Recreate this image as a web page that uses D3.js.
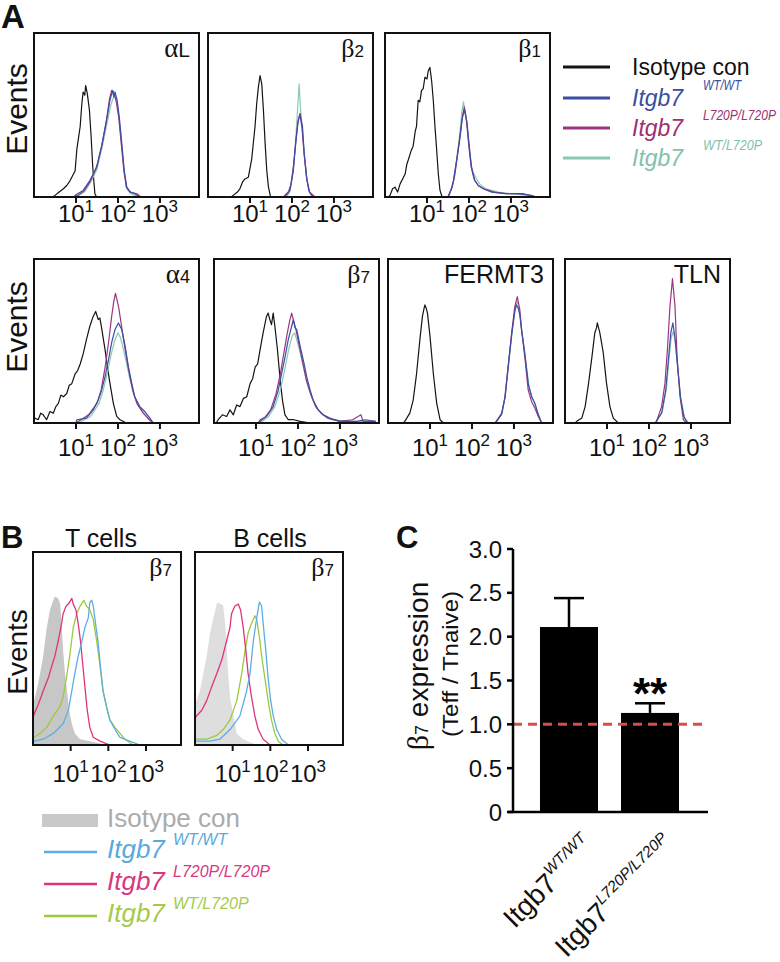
<!DOCTYPE html>
<html><head><meta charset="utf-8">
<script src="https://cdn.jsdelivr.net/npm/d3@7"></script>
<style>body{margin:0;background:#fff} svg{display:block}</style>
</head><body><svg id="c" width="780" height="962"></svg>
<script>
// ---------- DATA (histograms: [log10 intensity, normalised events]) ----------
const histTicks = [10, 100, 1000];
const histTickExp = ["1", "2", "3"];

const aL_iso = [[0.45,0],[0.5,0.01],[0.6,0.03],[0.7,0.05],[0.78,0.07],[0.86,0.10],[0.98,0.16],[1.02,0.29],[1.10,0.43],[1.14,0.57],[1.17,0.64],[1.21,0.62],[1.23,0.68],[1.27,0.63],[1.32,0.53],[1.36,0.37],[1.40,0.18],[1.45,0.02],[1.49,0]];
const aL_wt  = [[0.95,0],[0.98,0.01],[1.17,0.04],[1.33,0.10],[1.49,0.18],[1.61,0.31],[1.73,0.47],[1.81,0.59],[1.87,0.65],[1.90,0.61],[1.93,0.64],[1.98,0.59],[2.03,0.49],[2.09,0.33],[2.15,0.16],[2.21,0.06],[2.29,0.03],[2.40,0.02],[2.52,0]];
const aL_hom = [[0.95,0],[1.05,0.01],[1.2,0.04],[1.35,0.10],[1.5,0.19],[1.62,0.32],[1.72,0.46],[1.80,0.60],[1.85,0.65],[1.90,0.64],[1.96,0.58],[2.02,0.48],[2.08,0.32],[2.14,0.16],[2.20,0.06],[2.3,0.03],[2.45,0.02],[2.55,0]];
const aL_het = [[1.0,0],[1.2,0.03],[1.35,0.09],[1.5,0.17],[1.62,0.30],[1.74,0.45],[1.82,0.55],[1.88,0.6],[1.93,0.62],[1.98,0.57],[2.03,0.47],[2.09,0.31],[2.15,0.15],[2.21,0.05],[2.3,0.02],[2.5,0]];

const b2_iso = [[0.55,0],[0.60,0.01],[0.70,0.03],[0.76,0.05],[0.82,0.09],[0.88,0.11],[0.96,0.12],[1.04,0.23],[1.12,0.43],[1.14,0.50],[1.16,0.57],[1.20,0.67],[1.24,0.74],[1.28,0.69],[1.32,0.53],[1.36,0.33],[1.40,0.16],[1.44,0.06],[1.49,0]];
const b2_wt  = [[1.80,0],[1.83,0.01],[1.95,0.04],[2.03,0.16],[2.09,0.33],[2.14,0.45],[2.19,0.51],[2.25,0.43],[2.29,0.27],[2.35,0.12],[2.40,0.04],[2.47,0.01],[2.55,0]];
const b2_hom = [[1.80,0],[1.90,0.02],[1.98,0.08],[2.04,0.20],[2.10,0.36],[2.15,0.47],[2.19,0.50],[2.24,0.42],[2.29,0.26],[2.35,0.11],[2.42,0.03],[2.55,0]];
const b2_het = [[1.85,0],[1.95,0.03],[2.03,0.15],[2.08,0.32],[2.13,0.52],[2.17,0.69],[2.20,0.55],[2.25,0.40],[2.30,0.24],[2.36,0.10],[2.43,0.02],[2.52,0]];

const b1_iso = [[0.08,0],[0.12,0.01],[0.18,0.05],[0.24,0.06],[0.30,0.03],[0.36,0.08],[0.42,0.11],[0.48,0.14],[0.52,0.20],[0.56,0.23],[0.62,0.28],[0.67,0.31],[0.72,0.40],[0.75,0.43],[0.79,0.59],[0.83,0.58],[0.87,0.65],[0.91,0.66],[0.95,0.73],[1.0,0.72],[1.03,0.77],[1.07,0.79],[1.11,0.71],[1.15,0.59],[1.19,0.43],[1.23,0.29],[1.27,0.14],[1.31,0.04],[1.36,0]];
const b1_wt  = [[1.50,0],[1.58,0.05],[1.63,0.10],[1.71,0.23],[1.79,0.37],[1.84,0.48],[1.89,0.53],[1.92,0.50],[1.95,0.46],[2.0,0.33],[2.06,0.18],[2.14,0.10],[2.22,0.07],[2.34,0.05],[2.54,0.03],[2.86,0.02],[3.17,0.02],[3.49,0.01],[3.6,0]];
const b1_hom = [[1.50,0],[1.60,0.06],[1.66,0.13],[1.73,0.26],[1.80,0.40],[1.85,0.50],[1.89,0.55],[1.94,0.47],[1.99,0.33],[2.05,0.19],[2.12,0.11],[2.22,0.07],[2.35,0.05],[2.6,0.03],[2.9,0.02],[3.3,0.02],[3.6,0]];
const b1_het = [[1.52,0],[1.62,0.08],[1.70,0.22],[1.77,0.36],[1.83,0.52],[1.87,0.58],[1.91,0.51],[1.96,0.42],[2.02,0.26],[2.08,0.16],[2.16,0.12],[2.25,0.08],[2.4,0.05],[2.7,0.03],[3.0,0.02],[3.4,0.01],[3.6,0]];

const a4_iso = [[0.0,0.0],[0.02,0.03],[0.1,0.02],[0.16,0.06],[0.22,0.05],[0.3,0.02],[0.38,0.07],[0.46,0.06],[0.52,0.10],[0.58,0.12],[0.64,0.17],[0.70,0.16],[0.78,0.18],[0.84,0.23],[0.90,0.24],[0.98,0.30],[1.04,0.32],[1.10,0.36],[1.17,0.42],[1.25,0.51],[1.33,0.59],[1.41,0.65],[1.47,0.68],[1.53,0.63],[1.57,0.64],[1.61,0.58],[1.69,0.45],[1.75,0.34],[1.81,0.24],[1.89,0.12],[1.97,0.04],[2.05,0.02],[2.2,0]];
const a4_wt  = [[1.0,0],[1.02,0.02],[1.25,0.03],[1.41,0.08],[1.53,0.14],[1.61,0.20],[1.69,0.28],[1.77,0.38],[1.85,0.49],[1.93,0.57],[2.01,0.61],[2.09,0.57],[2.17,0.47],[2.25,0.34],[2.33,0.24],[2.40,0.16],[2.52,0.10],[2.64,0.07],[2.76,0.03],[2.84,0]];
const a4_hom = [[1.0,0],[1.3,0.05],[1.5,0.12],[1.6,0.20],[1.7,0.35],[1.78,0.50],[1.85,0.65],[1.90,0.74],[1.94,0.79],[1.97,0.76],[2.02,0.70],[2.08,0.60],[2.15,0.48],[2.25,0.33],[2.35,0.20],[2.45,0.12],[2.6,0.06],[2.75,0.02],[2.85,0]];
const a4_het = [[1.05,0],[1.35,0.04],[1.55,0.12],[1.65,0.20],[1.75,0.31],[1.84,0.42],[1.92,0.50],[2.0,0.55],[2.06,0.52],[2.12,0.46],[2.2,0.37],[2.28,0.27],[2.38,0.17],[2.5,0.10],[2.65,0.05],[2.8,0]];

const b7_iso = [[0.05,0],[0.10,0.02],[0.20,0.05],[0.30,0.04],[0.38,0.08],[0.46,0.05],[0.54,0.11],[0.62,0.10],[0.70,0.15],[0.78,0.16],[0.86,0.24],[0.92,0.27],[0.98,0.34],[1.04,0.36],[1.10,0.45],[1.17,0.55],[1.25,0.65],[1.29,0.67],[1.33,0.63],[1.37,0.60],[1.41,0.67],[1.45,0.59],[1.51,0.45],[1.57,0.28],[1.63,0.14],[1.69,0.05],[1.77,0.02],[1.9,0.02],[2.05,0.01],[2.3,0]];
const b7_wt  = [[1.05,0],[1.10,0.02],[1.25,0.04],[1.41,0.10],[1.53,0.20],[1.61,0.30],[1.69,0.40],[1.77,0.51],[1.85,0.59],[1.89,0.63],[1.93,0.58],[1.97,0.57],[2.05,0.47],[2.13,0.38],[2.21,0.28],[2.29,0.20],[2.36,0.14],[2.48,0.08],[2.60,0.05],[2.76,0.03],[3.0,0.01],[3.4,0.01],[3.6,0.02],[3.85,0.01]];
const b7_hom = [[1.05,0],[1.2,0.03],[1.35,0.08],[1.48,0.18],[1.58,0.30],[1.66,0.42],[1.74,0.54],[1.80,0.62],[1.85,0.67],[1.90,0.62],[1.96,0.56],[2.04,0.46],[2.12,0.36],[2.2,0.26],[2.3,0.18],[2.42,0.10],[2.55,0.06],[2.7,0.03],[3.0,0.01],[3.3,0.02],[3.5,0.05],[3.55,0.01],[3.85,0.01]];
const b7_het = [[1.1,0],[1.3,0.04],[1.45,0.10],[1.58,0.20],[1.68,0.32],[1.78,0.45],[1.86,0.53],[1.92,0.55],[1.98,0.50],[2.06,0.42],[2.14,0.33],[2.22,0.24],[2.32,0.16],[2.45,0.09],[2.6,0.05],[2.8,0.02],[3.2,0.01],[3.85,0.01]];

const fe_iso = [[0.36,0],[0.40,0.01],[0.52,0.06],[0.60,0.14],[0.68,0.30],[0.76,0.51],[0.82,0.65],[0.86,0.70],[0.88,0.72],[0.91,0.70],[0.94,0.67],[1.00,0.53],[1.08,0.30],[1.16,0.12],[1.24,0.02],[1.32,0]];
const fe_wt  = [[2.55,0],[2.71,0.06],[2.79,0.16],[2.86,0.34],[2.95,0.55],[3.02,0.68],[3.06,0.72],[3.10,0.70],[3.14,0.66],[3.18,0.57],[3.26,0.42],[3.34,0.24],[3.42,0.16],[3.50,0.12],[3.58,0.05],[3.66,0]];
const fe_hom = [[2.55,0],[2.70,0.05],[2.78,0.15],[2.86,0.34],[2.95,0.56],[3.02,0.71],[3.08,0.77],[3.14,0.69],[3.18,0.57],[3.26,0.40],[3.34,0.20],[3.42,0.13],[3.50,0.09],[3.58,0.04],[3.66,0]];
const fe_het = [[2.57,0],[2.72,0.06],[2.80,0.18],[2.88,0.37],[2.96,0.56],[3.03,0.70],[3.08,0.74],[3.13,0.68],[3.2,0.54],[3.28,0.38],[3.36,0.22],[3.44,0.15],[3.52,0.10],[3.6,0.04],[3.66,0]];

const tl_iso = [[0.24,0],[0.28,0.01],[0.40,0.03],[0.48,0.10],[0.56,0.24],[0.64,0.40],[0.71,0.55],[0.75,0.58],[0.77,0.61],[0.80,0.58],[0.83,0.55],[0.91,0.43],[0.99,0.24],[1.07,0.10],[1.15,0.03],[1.27,0]];
const tl_wt  = [[2.15,0],[2.30,0.06],[2.40,0.20],[2.46,0.38],[2.52,0.55],[2.57,0.61],[2.62,0.52],[2.68,0.35],[2.75,0.16],[2.83,0.04],[2.92,0]];
const tl_hom = [[2.15,0],[2.18,0.01],[2.30,0.10],[2.38,0.24],[2.44,0.45],[2.50,0.71],[2.56,0.88],[2.62,0.71],[2.67,0.40],[2.74,0.16],[2.82,0.02],[2.90,0]];
const tl_het = [[2.15,0],[2.32,0.07],[2.42,0.22],[2.48,0.40],[2.53,0.52],[2.58,0.56],[2.63,0.48],[2.69,0.32],[2.76,0.14],[2.85,0.03],[2.95,0]];

const bT_iso = [[0,0.20],[0.03,0.23],[0.14,0.32],[0.27,0.46],[0.36,0.60],[0.45,0.70],[0.54,0.75],[0.58,0.77],[0.67,0.76],[0.72,0.73],[0.76,0.63],[0.80,0.49],[0.85,0.37],[0.91,0.27],[0.96,0.18],[1.03,0.11],[1.11,0.06],[1.25,0.03],[1.51,0.02],[1.86,0.005],[1.9,0]];
const bT_wt  = [[0,0.02],[0.03,0.02],[0.27,0.03],[0.54,0.06],[0.80,0.11],[0.94,0.18],[1.03,0.28],[1.11,0.37],[1.20,0.46],[1.29,0.53],[1.38,0.61],[1.47,0.66],[1.51,0.74],[1.56,0.75],[1.60,0.72],[1.66,0.63],[1.73,0.53],[1.80,0.39],[1.86,0.28],[1.95,0.20],[2.04,0.13],[2.18,0.08],[2.31,0.04],[2.57,0.02],[2.84,0]];
const bT_hom = [[0,0.14],[0.03,0.16],[0.14,0.21],[0.27,0.28],[0.41,0.35],[0.50,0.41],[0.58,0.46],[0.67,0.54],[0.76,0.63],[0.80,0.68],[0.88,0.72],[0.94,0.73],[1.03,0.76],[1.07,0.73],[1.14,0.70],[1.20,0.63],[1.26,0.54],[1.32,0.42],[1.38,0.30],[1.44,0.18],[1.51,0.09],[1.60,0.04],[1.78,0.02],[2.04,0]];
const bT_het = [[0,0.04],[0.03,0.04],[0.19,0.06],[0.36,0.09],[0.54,0.15],[0.72,0.20],[0.80,0.25],[0.89,0.35],[0.98,0.47],[1.07,0.61],[1.16,0.68],[1.25,0.72],[1.35,0.75],[1.42,0.72],[1.51,0.70],[1.60,0.65],[1.69,0.54],[1.78,0.41],[1.86,0.28],[1.95,0.20],[2.04,0.13],[2.18,0.09],[2.31,0.06],[2.44,0.03],[2.66,0]];

const bB_iso = [[0,0.21],[0.04,0.23],[0.13,0.28],[0.22,0.37],[0.31,0.46],[0.40,0.58],[0.49,0.66],[0.58,0.73],[0.62,0.74],[0.66,0.73],[0.71,0.73],[0.75,0.72],[0.80,0.63],[0.84,0.51],[0.88,0.37],[0.93,0.25],[1.02,0.15],[1.11,0.06],[1.28,0.03],[1.64,0.0]];
const bB_wt  = [[0,0.02],[0.04,0.02],[0.40,0.02],[0.66,0.03],[0.93,0.08],[1.19,0.15],[1.37,0.28],[1.46,0.37],[1.55,0.54],[1.64,0.66],[1.71,0.74],[1.77,0.72],[1.81,0.63],[1.88,0.49],[1.94,0.35],[2.01,0.23],[2.08,0.15],[2.17,0.08],[2.30,0.03],[2.48,0]];
const bB_hom = [[0,0.14],[0.04,0.15],[0.18,0.18],[0.31,0.23],[0.44,0.30],[0.58,0.37],[0.71,0.44],[0.84,0.54],[0.93,0.61],[0.97,0.68],[1.06,0.72],[1.15,0.73],[1.21,0.70],[1.28,0.61],[1.35,0.49],[1.41,0.37],[1.50,0.25],[1.59,0.15],[1.68,0.08],[1.81,0.03],[1.99,0]];
const bB_het = [[0,0.03],[0.04,0.03],[0.31,0.03],[0.58,0.05],[0.75,0.08],[0.93,0.13],[1.11,0.23],[1.24,0.37],[1.33,0.49],[1.41,0.58],[1.50,0.63],[1.59,0.67],[1.64,0.65],[1.71,0.56],[1.77,0.46],[1.86,0.34],[1.95,0.22],[2.03,0.13],[2.12,0.06],[2.21,0.02],[2.34,0]];

// Panel C
const cGenotypes = ["WT/WT", "L720P/L720P"];
const cMeans = [2.11, 1.13];
const cUpper = [2.44, 1.24];
const cYTicks = [0, 0.5, 1.0, 1.5, 2.0, 2.5, 3.0];
const cRefLine = 1.0;

// Legends
const legendA = [
  {main:"Isotype con", sup:""},
  {main:"Itgb7", sup:"WT/WT"},
  {main:"Itgb7", sup:"L720P/L720P"},
  {main:"Itgb7", sup:"WT/L720P"}
];

// ---------- DRAWING ----------
const SANS = "'Liberation Sans', Arial, sans-serif";
const SERIF = "'Liberation Serif', 'Times New Roman', serif";
const colA = {iso:"#141414", wt:"#3b4ea2", hom:"#9c3482", het:"#88c9b5"};
const colAtext = {iso:"#111111", wt:"#3a4da0", hom:"#a02f72", het:"#82c2ab"};
const colB = {wt:"#5caee2", hom:"#e0337d", het:"#9dc93f"};
const colBtext = {iso:"#ababab", wt:"#5aa9de", hom:"#d9387f", het:"#a5cb4b"};

const svg = d3.select("#c");
const defs = svg.append("defs");
let clipId = 0;

function richText(g, x, y, parts, anchor) {
  const t = g.append("text").attr("x", x).attr("y", y).attr("text-anchor", anchor || "start");
  parts.forEach(p => {
    const s = t.append("tspan").text(p.t)
      .attr("font-family", p.family || SANS)
      .attr("font-size", p.size)
      .attr("fill", p.fill || "#111");
    if (p.dy) s.attr("dy", p.dy);
    if (p.italic) s.attr("font-style", "italic");
    if (p.bold) s.attr("font-weight", "bold");
    if (p.len) s.attr("textLength", p.len).attr("lengthAdjust", "spacingAndGlyphs");
  });
  return t;
}

function drawHist(o) {
  const g = svg.append("g");
  const x = d3.scaleLog().domain([1, Math.pow(10, 3.93)]).range([o.x, o.x + o.w]);
  const y = d3.scaleLinear().domain([0, 1]).range([o.y + o.h, o.y]);
  const id = "clip" + (clipId++);
  defs.append("clipPath").attr("id", id).append("rect")
    .attr("x", o.x).attr("y", o.y).attr("width", o.w).attr("height", o.h);
  const cg = g.append("g").attr("clip-path", `url(#${id})`);
  const px = d => x(Math.pow(10, d[0]));
  o.curves.forEach(c => {
    if (c.fill) {
      const area = d3.area().x(px).y0(y(0)).y1(d => y(d[1]));
      cg.append("path").attr("d", area(c.data)).attr("fill", c.fill).attr("stroke", "none");
    } else {
      const line = d3.line().x(px).y(d => y(d[1]));
      cg.append("path").attr("d", line(c.data)).attr("fill", "none")
        .attr("stroke", c.color).attr("stroke-width", c.sw || 1.2).attr("stroke-linejoin", "round");
    }
  });
  g.append("rect").attr("x", o.x).attr("y", o.y).attr("width", o.w).attr("height", o.h)
    .attr("fill", "none").attr("stroke", "#111").attr("stroke-width", 2);
  histTicks.forEach((t, i) => {
    g.append("line").attr("x1", x(t)).attr("x2", x(t)).attr("y1", o.y + o.h).attr("y2", o.y + o.h + 6)
      .attr("stroke", "#111").attr("stroke-width", 2);
    richText(g, x(t), o.y + o.h + o.lblOff, [
      {t:"10", size:24},
      {t:histTickExp[i], size:17, dy:-10}
    ], "middle");
  });
  if (o.label) richText(g, o.x + o.w - 9, o.y + 24, o.label, "end");
}

function greek(letter, rest, restSize) {
  return [{t:letter, size:26, family:SERIF}, {t:rest, size:restSize || 17}];
}

const hA = 164, wA = 165;
const A = (iso, wt, hom, het) => [
  {data:iso, color:colA.iso}, {data:het, color:colA.het}, {data:hom, color:colA.hom}, {data:wt, color:colA.wt}
];
drawHist({x:34, y:33, w:wA, h:hA, lblOff:25, curves:A(aL_iso, aL_wt, aL_hom, aL_het), label:[{t:"α", size:27, family:SERIF}, {t:"L", size:21}]});
drawHist({x:208, y:33, w:wA, h:hA, lblOff:25, curves:A(b2_iso, b2_wt, b2_hom, b2_het), label:greek("β", "2")});
drawHist({x:385, y:33, w:wA, h:hA, lblOff:25, curves:A(b1_iso, b1_wt, b1_hom, b1_het), label:greek("β", "1")});
drawHist({x:34, y:259, w:wA, h:hA, lblOff:33, curves:A(a4_iso, a4_wt, a4_hom, a4_het), label:[{t:"α", size:27, family:SERIF}, {t:"4", size:18}]});
drawHist({x:214, y:259, w:wA, h:hA, lblOff:33, curves:A(b7_iso, b7_wt, b7_hom, b7_het), label:greek("β", "7")});
drawHist({x:388, y:259, w:wA, h:hA, lblOff:33, curves:A(fe_iso, fe_wt, fe_hom, fe_het), label:[{t:"FERMT3", size:25}]});
drawHist({x:565, y:259, w:wA, h:hA, lblOff:33, curves:A(tl_iso, tl_wt, tl_hom, tl_het), label:[{t:"TLN", size:25}]});

const Bc = (iso, isoFill, wt, hom, het) => [
  {data:iso, fill:isoFill}, {data:het, color:colB.het, sw:1.3}, {data:hom, color:colB.hom, sw:1.3}, {data:wt, color:colB.wt, sw:1.3}
];
drawHist({x:33, y:552, w:148, h:193, lblOff:37, curves:Bc(bT_iso, "#c7c7c7", bT_wt, bT_hom, bT_het), label:greek("β", "7")});
drawHist({x:195, y:552, w:148, h:193, lblOff:37, curves:Bc(bB_iso, "#dedede", bB_wt, bB_hom, bB_het), label:greek("β", "7")});

// titles / Events labels / panel letters
const txt = (x, y, s, size, extra) => {
  const t = svg.append("text").attr("x", x).attr("y", y).text(s).attr("font-family", SANS).attr("font-size", size).attr("fill", "#111");
  if (extra) extra(t);
  return t;
};
txt(1, 28, "A", 33, t => t.attr("font-weight", "bold"));
txt(1, 548, "B", 31, t => t.attr("font-weight", "bold"));
txt(396, 548, "C", 31, t => t.attr("font-weight", "bold"));
txt(101, 547, "T cells", 25, t => t.attr("text-anchor", "middle"));
txt(270, 547, "B cells", 25, t => t.attr("text-anchor", "middle"));
[[109, 30], [327, 30], [652, 28]].forEach(([cy, s]) => {
  svg.append("text").attr("transform", `translate(27,${cy}) rotate(-90)`).attr("text-anchor", "middle")
    .attr("font-family", SANS).attr("font-size", s).attr("fill", "#111").text("Events");
});

// Legend A
const legAColors = [colA.iso, colA.wt, colA.hom, colA.het];
const legATextColors = [colAtext.iso, colAtext.wt, colAtext.hom, colAtext.het];
const legAY = [67, 98, 128, 158];
const legASupLen = [0, 38, 73, 59];
legendA.forEach((d, i) => {
  svg.append("line").attr("x1", 563).attr("x2", 610).attr("y1", legAY[i]).attr("y2", legAY[i])
    .attr("stroke", legAColors[i]).attr("stroke-width", 3);
  richText(svg, 632, legAY[i] + 8, [{t:d.main, size:23, italic: i > 0, fill:legATextColors[i]}]);
  if (d.sup) richText(svg, 703, legAY[i] - 8, [{t:d.sup, size:14, italic:true, fill:legATextColors[i], len:legASupLen[i]}]);
});

// Legend B
svg.append("rect").attr("x", 42).attr("y", 814).attr("width", 56).attr("height", 13).attr("fill", "#c9c9c9");
richText(svg, 107, 827, [{t:legendA[0].main, size:26, fill:colBtext.iso}]);
const legBColors = [colB.wt, colB.hom, colB.het];
const legBText = [colBtext.wt, colBtext.hom, colBtext.het];
const legBY = [852, 884, 916];
legendA.slice(1).forEach((d, i) => {
  svg.append("line").attr("x1", 44).attr("x2", 97).attr("y1", legBY[i]).attr("y2", legBY[i])
    .attr("stroke", legBColors[i]).attr("stroke-width", 2.5);
  richText(svg, 107, legBY[i] + 6, [{t:d.main, size:26, italic:true, fill:legBText[i]}]);
  richText(svg, 173, legBY[i] - 7, [{t:d.sup, size:16, italic:true, fill:legBText[i]}]);
});

// ---------- Panel C ----------
const yC = d3.scaleLinear().domain([0, 3]).range([812, 549]);
const xC = d3.scaleBand().domain(cGenotypes).range([513, 706]).paddingInner(0.284).paddingOuter(0.333);
const gC = svg.append("g");
gC.selectAll("rect.bar").data(cGenotypes).enter().append("rect")
  .attr("x", d => xC(d)).attr("width", xC.bandwidth())
  .attr("y", (d, i) => yC(cMeans[i])).attr("height", (d, i) => yC(0) - yC(cMeans[i])).attr("fill", "#000");
cGenotypes.forEach((d, i) => {
  const cx = xC(d) + xC.bandwidth() / 2;
  gC.append("line").attr("x1", cx).attr("x2", cx).attr("y1", yC(cMeans[i])).attr("y2", yC(cUpper[i]))
    .attr("stroke", "#000").attr("stroke-width", 2.5);
  gC.append("line").attr("x1", cx - 15).attr("x2", cx + 15).attr("y1", yC(cUpper[i])).attr("y2", yC(cUpper[i]))
    .attr("stroke", "#000").attr("stroke-width", 2.5);
});
gC.append("line").attr("x1", 513).attr("x2", 702).attr("y1", yC(cRefLine)).attr("y2", yC(cRefLine))
  .attr("stroke", "#d0524b").attr("stroke-width", 3).attr("stroke-dasharray", "9,6");
// axes
gC.append("line").attr("x1", 513).attr("x2", 513).attr("y1", yC(3)).attr("y2", yC(0)).attr("stroke", "#000").attr("stroke-width", 2.5);
gC.append("line").attr("x1", 508).attr("x2", 708).attr("y1", yC(0)).attr("y2", yC(0)).attr("stroke", "#000").attr("stroke-width", 2.5);
cYTicks.forEach(t => {
  gC.append("line").attr("x1", 507).attr("x2", 513).attr("y1", yC(t)).attr("y2", yC(t)).attr("stroke", "#000").attr("stroke-width", 2.5);
  gC.append("text").attr("x", 502).attr("y", yC(t)).attr("dy", "0.36em").attr("text-anchor", "end")
    .attr("font-family", SANS).attr("font-size", 24).attr("fill", "#111").text(t === 0 ? "0" : t.toFixed(1));
});
// significance
gC.append("text").attr("x", xC(cGenotypes[1]) + xC.bandwidth() / 2).attr("y", 709).attr("text-anchor", "middle")
  .attr("font-family", SANS).attr("font-weight", "bold").attr("font-size", 44).attr("fill", "#000").text("**");
// y label
const yl = gC.append("text").attr("transform", "translate(428,666) rotate(-90)").attr("text-anchor", "middle").attr("fill", "#111");
yl.append("tspan").text("β").attr("font-family", SERIF).attr("font-size", 30);
yl.append("tspan").text("7").attr("font-family", SANS).attr("font-size", 18);
yl.append("tspan").text(" expression").attr("font-family", SANS).attr("font-size", 28);
gC.append("text").attr("transform", "translate(458,664) rotate(-90)").attr("text-anchor", "middle")
  .attr("font-family", SANS).attr("font-size", 22).attr("fill", "#111")
  .attr("textLength", 146).attr("lengthAdjust", "spacingAndGlyphs").text("(Teff / Tnaive)");
// x labels
cGenotypes.forEach(d => {
  const cx = xC(d) + xC.bandwidth() / 2;
  const t = gC.append("text").attr("transform", `translate(${cx + 27},848) rotate(-45)`).attr("text-anchor", "end").attr("fill", "#111");
  t.append("tspan").text("Itgb7").attr("font-family", SANS).attr("font-size", 28);
  t.append("tspan").text(d).attr("font-family", SANS).attr("font-style", "italic").attr("font-size", 15.5).attr("dy", -13);
});
</script></body></html>
